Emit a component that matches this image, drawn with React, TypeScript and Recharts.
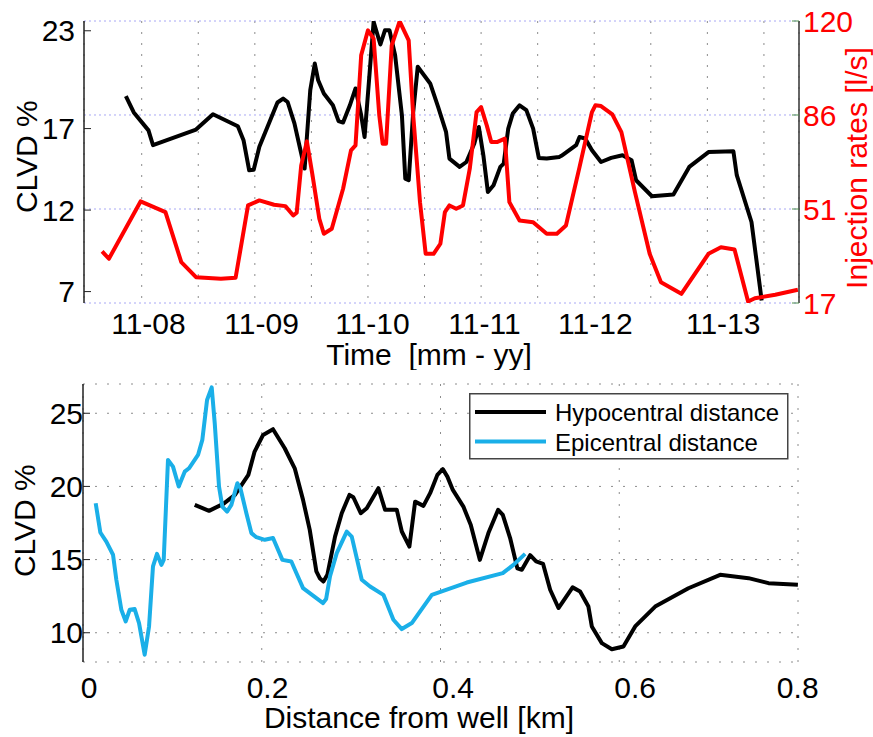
import { CartesianGrid, Label, Legend, Line, LineChart, XAxis, YAxis } from 'recharts';

// top panel: CLVD (left axis) and injection rate (right axis) over time, in years
const clvdSeries: [number, number][] = [
  [2007.86, 18.99], [2007.93, 17.99], [2008.06, 16.89], [2008.1, 15.98], [2008.48, 16.94],
  [2008.63, 17.88], [2008.85, 17.14], [2008.9, 16.29], [2008.95, 14.44], [2008.99, 14.48],
  [2009.04, 15.88], [2009.2, 18.6], [2009.25, 18.84], [2009.29, 18.63], [2009.35, 17.32],
  [2009.4, 15.78], [2009.44, 14.55], [2009.49, 19.36], [2009.53, 20.99], [2009.56, 19.96],
  [2009.61, 19.15], [2009.69, 18.43], [2009.74, 17.46], [2009.78, 17.37], [2009.84, 18.43],
  [2009.89, 19.46], [2009.94, 17.82], [2009.97, 16.48], [2010.05, 23.55], [2010.11, 22.16],
  [2010.15, 23.03], [2010.19, 23.03], [2010.24, 21.5], [2010.3, 17.82], [2010.33, 13.93],
  [2010.36, 13.83], [2010.4, 18.02], [2010.44, 20.79], [2010.55, 19.77], [2010.62, 18.33],
  [2010.69, 16.8], [2010.72, 15.16], [2010.81, 14.65], [2010.87, 14.95], [2010.94, 16.08],
  [2010.98, 17.1], [2011.02, 15.36], [2011.06, 13.11], [2011.11, 13.52], [2011.17, 14.65],
  [2011.2, 14.85], [2011.24, 17.0], [2011.28, 17.92], [2011.34, 18.43], [2011.4, 18.13],
  [2011.46, 17.0], [2011.51, 15.2], [2011.58, 15.16], [2011.69, 15.26], [2011.71, 15.33],
  [2011.84, 15.98], [2011.87, 16.48], [2011.92, 16.39], [2011.98, 15.67], [2012.06, 14.95],
  [2012.15, 15.2], [2012.25, 15.36], [2012.33, 15.06], [2012.37, 13.83], [2012.51, 12.85],
  [2012.7, 12.95], [2012.84, 14.65], [2013.01, 15.56], [2013.23, 15.61], [2013.26, 14.14],
  [2013.39, 11.27], [2013.48, 6.46],
];

const rateSeries: [number, number][] = [
  [2007.65, 35.82], [2007.71, 33.16], [2007.99, 54.1], [2008.21, 50.19], [2008.35, 31.91],
  [2008.48, 26.43], [2008.7, 25.85], [2008.83, 26.21], [2008.94, 52.64], [2009.04, 54.46],
  [2009.17, 52.89], [2009.27, 52.38], [2009.34, 48.98], [2009.37, 49.97], [2009.41, 67.26],
  [2009.46, 76.03], [2009.51, 63.6], [2009.57, 47.78], [2009.61, 42.29], [2009.68, 44.12],
  [2009.78, 58.74], [2009.85, 72.74], [2009.89, 74.57], [2009.94, 107.46], [2010.0, 116.6],
  [2010.05, 113.57], [2010.1, 85.53], [2010.13, 75.19], [2010.16, 75.19], [2010.21, 111.12],
  [2010.28, 119.9], [2010.36, 112.94], [2010.4, 85.53], [2010.46, 53.84], [2010.51, 34.98],
  [2010.58, 34.98], [2010.64, 38.64], [2010.68, 50.19], [2010.72, 52.64], [2010.78, 51.43],
  [2010.84, 52.64], [2010.9, 66.05], [2010.96, 86.74], [2011.0, 88.57], [2011.05, 81.88],
  [2011.09, 75.77], [2011.14, 75.77], [2011.21, 77.02], [2011.25, 53.84], [2011.34, 47.15],
  [2011.46, 46.53], [2011.58, 42.29], [2011.67, 42.29], [2011.75, 45.33], [2011.87, 66.63],
  [2011.98, 86.74], [2012.01, 89.19], [2012.06, 88.93], [2012.16, 85.9], [2012.24, 79.43],
  [2012.36, 57.5], [2012.49, 34.98], [2012.59, 24.6], [2012.77, 20.36], [2013.01, 34.98],
  [2013.12, 37.39], [2013.24, 36.55], [2013.36, 17.55], [2013.42, 18.75], [2013.6, 20.0],
  [2013.8, 21.82],
];

const timeGridTicks = [2008, 2008.5, 2009, 2009.5, 2010, 2010.5, 2011, 2011.5, 2012, 2012.5, 2013, 2013.5];
const timeLabelPos = [2008.06, 2009.06, 2010.04, 2011.03, 2012.01, 2013.14];
const timeLabels = ['11-08', '11-09', '11-10', '11-11', '11-12', '11-13'];
const clvdTicks = [7, 12, 17, 23];
const rateTicks = [17, 51.33, 85.67, 120];

// bottom panel: CLVD against distance from the well (km)
const hypoSeries: [number, number][] = [
  [0.125, 18.74], [0.141, 18.33], [0.157, 18.81], [0.17, 19.42], [0.185, 20.79],
  [0.192, 22.38], [0.2015, 23.52], [0.2126, 23.91], [0.2257, 22.61], [0.2369, 21.24],
  [0.2462, 19.08], [0.2537, 17.03], [0.2611, 14.19], [0.2652, 13.7], [0.269, 13.5],
  [0.2734, 13.96], [0.282, 16.57], [0.2895, 18.17], [0.2981, 19.42], [0.3025, 19.26],
  [0.3108, 18.17], [0.3175, 18.51], [0.3305, 19.88], [0.338, 18.4], [0.3511, 18.4],
  [0.3567, 16.92], [0.3652, 15.89], [0.3716, 18.96], [0.3809, 18.67], [0.3884, 19.54],
  [0.3965, 20.79], [0.4026, 21.18], [0.4077, 20.67], [0.4138, 19.76], [0.4256, 18.62],
  [0.4339, 17.37], [0.444, 14.98], [0.4536, 16.81], [0.4645, 18.4], [0.4697, 18.06],
  [0.4779, 16.47], [0.486, 14.4], [0.491, 14.3], [0.5003, 15.3], [0.507, 14.87],
  [0.5148, 14.7], [0.5227, 12.94], [0.532, 11.69], [0.5478, 13.1], [0.5562, 12.82],
  [0.5655, 11.79], [0.5693, 10.43], [0.5805, 9.29], [0.5917, 8.87], [0.6047, 9.06],
  [0.6178, 10.43], [0.6402, 11.79], [0.6774, 13.04], [0.7129, 13.96], [0.7446, 13.73],
  [0.767, 13.39], [0.7999, 13.28],
];

const epiSeries: [number, number][] = [
  [0.0142, 18.85], [0.0194, 16.85], [0.0261, 16.23], [0.0336, 15.33], [0.0373, 13.62],
  [0.0429, 11.57], [0.0478, 10.77], [0.0522, 11.57], [0.0578, 11.62], [0.0627, 10.66],
  [0.069, 8.5], [0.0739, 10.43], [0.0783, 14.53], [0.0828, 15.39], [0.0877, 14.64],
  [0.0903, 14.98], [0.0951, 21.81], [0.1007, 21.35], [0.1071, 19.99], [0.1138, 21.01],
  [0.1186, 21.24], [0.1287, 22.15], [0.1335, 23.18], [0.1388, 25.91], [0.144, 26.77],
  [0.1474, 24.32], [0.1522, 19.99], [0.1559, 18.62], [0.1612, 18.28], [0.166, 18.74],
  [0.1727, 20.22], [0.1761, 19.88], [0.1828, 18.17], [0.1884, 16.81], [0.194, 16.53],
  [0.2034, 16.35], [0.2126, 16.47], [0.2231, 14.98], [0.2331, 14.87], [0.2387, 14.08],
  [0.2462, 13.05], [0.2686, 12.03], [0.272, 12.3], [0.2764, 13.87], [0.2839, 15.44],
  [0.2951, 16.91], [0.3007, 16.57], [0.3119, 13.62], [0.3212, 13.16], [0.3361, 12.59],
  [0.3473, 10.89], [0.3567, 10.25], [0.3679, 10.66], [0.3903, 12.59], [0.4294, 13.43],
  [0.4697, 14.07], [0.4816, 14.64], [0.4947, 15.39],
];

const distTicks = [0, 0.2, 0.4, 0.6, 0.8];
const distLabelPos = [0.0067, 0.2065, 0.4141, 0.6178, 0.7997];
const distLabels = ['0', '0.2', '0.4', '0.6', '0.8'];
const distClvdTicks = [10, 15, 20, 25];
const legendOrder = ['Hypocentral distance', 'Epicentral distance'];

const FONT = '"Liberation Sans", Arial, sans-serif';
const toRows = (s: [number, number][]) => s.map(([x, v]) => ({ x, v }));

// axis title drawn relative to the axis box
const title = (text: string, color: string, dx: number, dy: number, angle = 0) => (props: any) => {
  const vb = props.viewBox;
  const x = vb.x + vb.width / 2 + dx;
  const y = vb.y + vb.height / 2 + dy;
  return (
    <text x={x} y={y} textAnchor="middle" fill={color} fontSize={30} fontFamily={FONT}
      transform={angle ? `rotate(${angle} ${x} ${y})` : undefined}>
      {text}
    </text>
  );
};

function LegendBox({ payload }: any) {
  const items = legendOrder
    .map((name) => (payload || []).find((p: any) => p.value === name))
    .filter(Boolean);
  return (
    <svg width={320} height={67} style={{ display: 'block' }}>
      <rect x={0.75} y={0.75} width={318} height={65} fill="#fff" stroke="#444" strokeWidth={1.5} />
      {items.map((p: any, i: number) => (
        <g key={p.value}>
          <line x1={6} x2={77} y1={19 + i * 29.5} y2={19 + i * 29.5} stroke={p.color} strokeWidth={4} />
          <text x={86} y={27.5 + i * 30} fontSize={24} fontFamily={FONT} fill="#000">{p.value}</text>
        </g>
      ))}
    </svg>
  );
}

const axisLine = { stroke: '#222', strokeWidth: 1.5 };

function TopPanel() {
  return (
    <LineChart width={873} height={370} margin={{ top: 21, right: 0, bottom: 0, left: 0 }}>
      <CartesianGrid vertical horizontal={false} stroke="#8c8c8c" strokeDasharray="2 9" />
      <CartesianGrid vertical={false} yAxisId="r" stroke="#a8a8f4" strokeDasharray="2 3" />
      <XAxis xAxisId={0} dataKey="x" type="number" domain={[2007.49, 2013.81]} ticks={timeGridTicks}
        interval={0} height={0} tickFormatter={() => ''} tickSize={-7} axisLine={axisLine}
        tickLine={{ stroke: '#222' }} allowDataOverflow />
      <XAxis xAxisId="lab" dataKey="x" type="number" domain={[2007.49, 2013.81]} ticks={timeLabelPos}
        interval={0} height={67} axisLine={false} tickLine={false} tickSize={0} tickMargin={10}
        tickFormatter={(v: number) => timeLabels[timeLabelPos.indexOf(v)] ?? ''}
        tick={{ fill: '#000', fontSize: 30, fontFamily: FONT }} allowDataOverflow>
        <Label content={title('Time\u00a0\u00a0[mm - yy]', '#000', -12.5, 28.5)} />
      </XAxis>
      <XAxis xAxisId="top" orientation="top" dataKey="x" type="number" domain={[2007.49, 2013.81]}
        ticks={timeGridTicks} interval={0} height={0} tickFormatter={() => ''} tickSize={-7}
        axisLine={{ stroke: '#444', strokeWidth: 1.5 }} tickLine={{ stroke: '#444' }} allowDataOverflow />
      <YAxis yAxisId="l" type="number" domain={[6.3, 23.6]} ticks={clvdTicks} interval={0} width={84}
        tickSize={-7} tickMargin={16} axisLine={axisLine} tickLine={{ stroke: '#222' }}
        tick={{ fill: '#000', fontSize: 30, fontFamily: FONT }} allowDataOverflow>
        <Label content={title('CLVD %', '#000', -5, -5.3, -90)} />
      </YAxis>
      <YAxis yAxisId="r" orientation="right" type="number" domain={[17, 120]} ticks={rateTicks} interval={0}
        width={74} tickSize={-7} tickMargin={11} axisLine={{ stroke: '#333', strokeWidth: 1.5 }}
        tickLine={{ stroke: '#4f8f4f' }} tickFormatter={(v: number) => String(Math.round(v))}
        tick={{ fill: '#ff0000', fontSize: 30, fontFamily: FONT }} allowDataOverflow>
        <Label content={title('Injection rates [l/s]', '#ff0000', 30.5, 6, -90)} />
      </YAxis>
      <Line data={toRows(clvdSeries)} yAxisId="l" dataKey="v" type="linear" stroke="#000" strokeWidth={4}
        dot={false} strokeLinejoin="round" isAnimationActive={false} />
      <Line data={toRows(rateSeries)} yAxisId="r" dataKey="v" type="linear" stroke="#ff0000" strokeWidth={4}
        dot={false} strokeLinejoin="round" isAnimationActive={false} />
    </LineChart>
  );
}

function BottomPanel() {
  return (
    <LineChart width={873} height={367} margin={{ top: 14, right: 75, bottom: 0, left: 0 }}>
      <CartesianGrid stroke="#8c8c8c" strokeDasharray="2 10" yAxisId="l" />
      <XAxis xAxisId={0} dataKey="x" type="number" domain={[0, 0.8]} ticks={distTicks} interval={0}
        height={0} tickFormatter={() => ''} tickSize={-7} axisLine={axisLine} tickLine={{ stroke: '#222' }}
        allowDataOverflow />
      <XAxis xAxisId="lab" dataKey="x" type="number" domain={[0, 0.8]} ticks={distLabelPos} interval={0}
        height={75} axisLine={false} tickLine={false} tickSize={0} tickMargin={15}
        tickFormatter={(v: number) => distLabels[distLabelPos.indexOf(v)] ?? ''}
        tick={{ fill: '#000', fontSize: 30, fontFamily: FONT }} allowDataOverflow>
        <Label content={title('Distance from well [km]', '#000', -21.5, 28.8)} />
      </XAxis>
      <XAxis xAxisId="top" orientation="top" dataKey="x" type="number" domain={[0, 0.8]} ticks={distTicks}
        interval={0} height={0} tickFormatter={() => ''} tickSize={-7}
        axisLine={{ stroke: '#444', strokeWidth: 1.5 }} tickLine={{ stroke: '#444' }} allowDataOverflow />
      <YAxis yAxisId="l" type="number" domain={[8, 27]} ticks={distClvdTicks} interval={0} width={83}
        tickSize={-7} tickMargin={7} axisLine={axisLine} tickLine={{ stroke: '#222' }}
        tick={{ fill: '#000', fontSize: 30, fontFamily: FONT }} allowDataOverflow>
        <Label content={title('CLVD %', '#000', -6.5, -2.3, -90)} />
      </YAxis>
      <YAxis yAxisId="r" orientation="right" type="number" domain={[8, 27]} ticks={distClvdTicks} interval={0}
        width={0} tickSize={-7} tickFormatter={() => ''} axisLine={{ stroke: '#444', strokeWidth: 1.5 }}
        tickLine={{ stroke: '#444' }} allowDataOverflow />
      <Legend layout="vertical" align="center" verticalAlign="middle" content={<LegendBox />}
        wrapperStyle={{ left: 469, top: 23, width: 320, height: 67 }} />
      <Line data={toRows(hypoSeries)} yAxisId="l" dataKey="v" name="Hypocentral distance" type="linear"
        stroke="#000" strokeWidth={4} dot={false} strokeLinejoin="round" isAnimationActive={false} />
      <Line data={toRows(epiSeries)} yAxisId="l" dataKey="v" name="Epicentral distance" type="linear"
        stroke="#1aafe8" strokeWidth={4} dot={false} strokeLinejoin="round" isAnimationActive={false} />
    </LineChart>
  );
}

export default function App() {
  return (
    <div style={{ position: 'absolute', left: 0, top: 0, width: 873, height: 737, background: '#fff' }}>
      <div style={{ position: 'absolute', left: 0, top: 0 }}>
        <TopPanel />
      </div>
      <div style={{ position: 'absolute', left: 0, top: 370 }}>
        <BottomPanel />
      </div>
    </div>
  );
}
